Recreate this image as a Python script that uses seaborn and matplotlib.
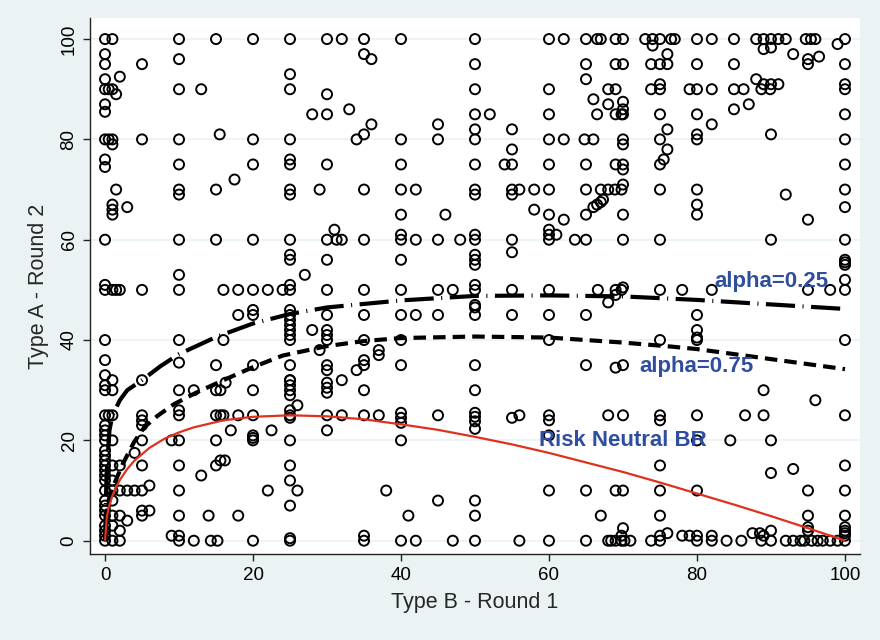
import matplotlib
matplotlib.use("Agg")
import matplotlib.pyplot as plt
import seaborn as sns
import pandas as pd

# ---------------- data ----------------
type_b_round1 = [
    # top zone
    0, 1, 10, 15, 20, 0, 0, 5, 10, 0, 2, 0, 0.5, 1, 1.5, 10, 13, 0, 0,
    0, 0.5, 1, 1, 5, 10, 15.5, 20, 0, 0, 10, 20, 17.5, 1.5, 10, 10, 15,
    1, 1, 1, 3,
    25, 30, 32, 35, 40, 50, 35, 36, 50, 25, 25, 30, 50, 28, 30, 33, 50, 36, 45, 50,
    25, 34, 35, 40, 45, 50, 25, 25, 30, 40, 50, 25, 25, 29, 35, 40, 42, 50, 50,
    60, 62, 65, 66.5, 67, 69, 70, 73, 74, 75, 74, 76.5, 76,
    65, 69, 70, 73.8, 75, 76, 65, 60, 68, 69, 73.8, 75, 75, 66, 68, 70, 70,
    52, 60, 66.5, 69, 69.8, 70, 75, 55, 76,
    60, 62, 64.8, 66, 70, 70, 75, 76, 55,
    54, 55, 60, 65, 69, 70, 70, 75, 75.5,
    55, 55, 56, 58, 60, 65, 67, 68, 68.9, 69.8, 70, 75,
    66, 66.5, 67, 67.3, 58, 60, 62, 65, 70,
    77, 80, 82, 85, 88, 89, 90, 91, 92, 94.7, 95.4, 96, 100, 99,
    89, 90, 93, 95, 95, 96.5, 100, 80, 85,
    88, 88.7, 89.9, 90, 91, 89, 79, 80, 82, 85, 86.3, 100, 100,
    85, 87, 80, 100, 82, 90, 80, 80, 100, 100, 80, 92, 100, 80, 80, 100, 95,
    # middle zone
    0, 10, 15, 20, 25, 10, 0, 0, 1, 1.5, 2, 5, 10, 16, 18, 20, 22, 24,
    18, 20, 20, 0, 10, 16, 0, 10, 15, 20, 0, 1,
    40, 46, 31, 30, 31.3, 32, 35, 40, 40, 42, 45, 48, 50, 50,
    25, 25, 30, 40, 50, 50, 27, 25, 25, 30, 35, 40, 45, 47, 50, 50,
    25, 25, 25, 25, 25, 25, 25, 30, 30, 30, 30, 28, 35, 40, 42, 45, 50, 50,
    35, 40, 29, 37, 37, 35, 35, 34, 25, 30, 30, 40, 50, 25, 32,
    55, 60, 60, 60, 61, 63.5, 65, 70, 75, 55, 50,
    55, 60, 66.6, 69, 69.8, 70, 69, 68, 75, 55, 60, 65, 50, 60, 75, 65, 69, 70,
    90, 100, 100, 100, 100, 100, 100, 95, 98, 78, 82, 80, 80, 80, 80, 100,
    # bottom zone
    0, 0, 1, 5, 10, 12, 15, 15.6, 20, 16.3,
    0, 0.5, 1, 5, 5, 10, 10, 15, 15.6, 16, 18, 20,
    5, 17, 20, 20, 20, 22.5, 0, 0, 0, 0, 1, 5, 9, 10, 15,
    4, 15, 15.6, 16.2, 13, 10, 5, 2, 0, 0, 0, 0, 0, 0, 0, 1, 1,
    0, 1, 2, 3, 4, 5, 6, 10, 22, 5, 5, 6, 3, 10, 14, 18,
    0, 0, 0, 0, 0, 0, 0, 1, 1, 1, 2, 2,
    0, 1, 2, 9, 10, 10, 12, 14.3, 15.2, 20,
    25, 25, 25, 25, 30, 30, 30, 35, 50, 26,
    25, 25, 25, 30, 32, 35, 37, 40, 40, 40, 45, 50, 50, 50, 50, 30,
    25, 40, 25, 25, 26, 38, 25, 45, 50, 41, 50,
    25, 25, 35, 35, 40, 42, 47, 50,
    55, 56, 60, 60, 68, 70, 75, 75, 60, 75,
    60, 65, 69, 70, 75, 67, 75, 70, 75, 76,
    56, 60, 65, 68, 68.4, 69, 69.8, 70.2, 71, 73.8, 75, 69.8,
    89, 96, 80, 86.5, 89, 100, 84.5, 90, 80, 90, 93, 100, 80, 95, 100, 95, 100,
    95, 95, 100, 100, 100, 100, 90, 87.5, 88.5, 89, 78, 79, 80, 82,
    80, 82, 84, 86, 88.7, 90, 92, 93, 94, 94.5, 95.5, 96.3, 97, 98, 99, 100,
]

type_a_round2 = [
    # top zone
    100, 100, 100, 100, 100, 97, 95, 95, 96, 92, 92.5, 90, 90, 90, 89, 90, 90, 87, 85.5,
    80, 80, 80, 79, 80, 80, 81, 80, 76, 74.5, 75, 75, 72, 70, 70, 69, 70,
    67, 66, 65, 66.5,
    100, 100, 100, 100, 100, 100, 97, 96, 95, 93, 90, 89, 90, 85, 85, 86, 85, 83, 83, 82,
    80, 80, 81, 80, 80, 80, 76, 75, 75, 75, 75, 70, 69, 70, 70, 70, 70, 70, 69,
    100, 100, 100, 100, 100, 100, 100, 100, 100, 100, 98.7, 100, 97,
    95, 95, 95, 95, 95, 95, 92, 90, 90, 90, 90, 90, 91, 88, 87, 87.5, 86,
    85, 85, 85, 85, 85, 85, 85, 82, 82,
    80, 80, 80, 80, 80, 79, 80, 78, 78,
    75, 75, 75, 75, 75, 75, 74, 75, 76,
    70, 69, 70, 70, 70, 70, 70, 70, 70, 70, 71, 70,
    66.5, 67, 67.5, 68, 66, 65, 64, 65, 65,
    100, 100, 100, 100, 100, 100, 100, 100, 100, 100, 100, 100, 100, 99,
    98, 98.3, 97, 96, 95, 96.5, 95, 95, 95,
    92, 90, 90, 91, 91, 91, 90, 90, 90, 90, 90, 91, 90,
    86, 87, 85, 85, 83, 81, 81, 80, 80, 75, 70, 69, 70, 67, 65, 66.5, 64,
    # middle zone
    60, 60, 60, 60, 60, 53, 51, 50, 50, 50, 50, 50, 50, 50, 50, 50, 50, 50,
    45, 46, 45, 40, 40, 40, 36, 35.5, 35, 35, 33, 32,
    65, 65, 62, 60, 60, 60, 60, 61, 60, 60, 60, 60, 61, 60,
    57, 56, 56, 56, 56, 55, 53, 51, 50, 50, 50, 50, 50, 50, 51, 50,
    46, 45, 44, 43, 42, 41, 40, 45, 42, 41, 40, 42, 45, 45, 45, 45, 46.5, 45,
    40, 40, 38, 38, 37, 36, 35, 34, 35, 35, 34, 35, 35, 32, 32,
    60, 60, 61, 62, 61, 60, 60, 60, 60, 57.5, 57,
    50, 50, 50, 50, 50, 50.5, 49, 47.5, 50, 45, 45, 45, 47, 40, 40, 35, 34.5, 35,
    60, 60, 56, 55.5, 55, 52, 50, 50, 50, 50, 50, 45, 42, 40.5, 40, 40,
    # bottom zone
    31, 30, 30, 32, 30, 30, 30, 30, 30, 31.5,
    25, 25, 25, 25, 24, 26, 25, 25, 25, 25, 25, 25,
    23, 22, 21, 20.5, 20, 22, 23, 22, 21, 20, 20, 20, 20, 20, 20,
    17.5, 15, 16, 16, 13, 15, 15, 15, 18, 17, 16, 15, 14, 13, 12, 15, 12,
    10, 10, 10, 10, 10, 10, 11, 10, 10, 6, 5, 6, 4, 5, 5, 5,
    8, 7, 6, 5, 3, 2, 1, 8, 5, 3, 5, 2,
    0, 0, 0, 1, 1, 0, 0, 0, 0, 0,
    32, 31, 30, 29, 31.5, 30.5, 29.5, 30, 30, 27,
    26, 25, 24.5, 25, 25, 25, 25, 25.5, 24.5, 23.5, 25, 25.5, 24.7, 23.8, 22.3, 22,
    20, 20, 15, 12, 10, 10, 7, 8, 8, 5, 5,
    0, 0.5, 1, 0, 0, 0, 0, 0,
    24.5, 25, 25, 24, 25, 25, 25, 24, 21, 15,
    10, 10, 10, 10, 10, 5, 5, 2.5, 1, 1.5,
    0, 0, 0, 0, 0, 0, 0, 0, 0, 0, 0, 1,
    30, 28, 25, 25, 25, 25, 20, 20, 20, 13.5, 14.3, 15, 10, 10, 10, 5, 5,
    2.7, 2, 2.7, 2, 1.5, 1, 2, 1.5, 1.5, 1, 1, 1, 1, 1,
    0, 0, 0, 0, 0, 0, 0, 0, 0, 0, 0, 0, 0, 0, 0, 0,
]

# best-response curves
rn_x = [0, 0.25, 0.5, 1, 1.5, 2, 3, 4, 6, 8, 10, 12, 16, 20, 25, 30, 35, 40, 45,
        50, 55, 60, 65, 70, 75, 80, 85, 90, 95, 100]
rn_y = [0, 4.8, 6.6, 9.0, 10.7, 12.1, 14.3, 16.0, 18.5, 20.3, 21.6, 22.6, 24.0,
        24.7, 25.0, 24.8, 24.2, 23.2, 22.1, 20.7, 19.2, 17.5, 15.6, 13.7, 11.6,
        9.4, 7.2, 4.9, 2.5, 0]

a25_x = [0, 0.2, 0.6, 1, 2, 3, 5, 7.5, 10, 15, 20, 25, 30, 40, 50, 60, 70, 80, 90, 100]
a25_y = [0, 13, 22, 25, 28, 30, 32, 34.8, 37.2, 40.6, 43.3, 45.2, 46.5, 47.9,
         48.8, 48.9, 48.7, 48.0, 47.1, 46.2]

a75_x = [0, 0.3, 1, 2.4, 3.9, 5.3, 7.1, 9.3, 12.3, 16, 20, 24, 30, 35, 40, 50,
         60, 70, 76.5, 80, 90, 100]
a75_y = [0, 6, 10.5, 15.3, 19.6, 22.6, 24.9, 27.2, 29.5, 32.0, 34.6, 36.9, 38.8,
         39.8, 40.4, 40.7, 40.5, 39.5, 38.7, 38.2, 36.2, 34.2]

labels = ["alpha=0.25", "alpha=0.75", "Risk Neutral BR"]
label_x = [90, 80, 70]
label_y = [51.6, 34.7, 19.9]

x_ticks = [0, 20, 40, 60, 80, 100]
y_ticks = [0, 20, 40, 60, 80, 100]

# ---------------- drawing ----------------
sns.set_theme(style="white")
plt.rcParams['font.family'] = ['Liberation Sans', 'DejaVu Sans']

W, H = 880, 640
fig = plt.figure(figsize=(W / 100, H / 100), dpi=100, facecolor='#EAF2F3')
L, R, B, T = 90, 860, 554, 18
ax = fig.add_axes([L / W, 1 - B / H, (R - L) / W, (B - T) / H])
ax.set_facecolor('white')

for yv in y_ticks:
    ax.axhline(yv, color='#EAF2F3', lw=1.2, zorder=0)

pts = pd.DataFrame({"b": type_b_round1, "a": type_a_round2})
sns.scatterplot(data=pts, x="b", y="a", ax=ax, marker='o', s=52,
                facecolor='none', edgecolor='black', linewidth=1.4, zorder=3)

sns.lineplot(x=a25_x, y=a25_y, ax=ax, color='black', lw=3.0, estimator=None,
             sort=False, zorder=4, linestyle=(0, (7, 1.8, 0.25, 1.8)))
sns.lineplot(x=a75_x, y=a75_y, ax=ax, color='black', lw=3.0, estimator=None,
             sort=False, zorder=4, linestyle=(0, (3.0, 1.7)))
sns.lineplot(x=rn_x, y=rn_y, ax=ax, color='#E0301E', lw=1.6, estimator=None,
             sort=False, zorder=4)
for ln in ax.lines:
    ln.set_solid_capstyle('butt')
    ln.set_dash_capstyle('butt')

for t, lx, ly in zip(labels, label_x, label_y):
    ax.text(lx, ly, t, color='#2F4E9F', fontsize=16, fontweight='bold',
            ha='center', va='center', zorder=5)

ax.set_xlim(-2.03, 102.03)
ax.set_ylim(-2.65, 104.2)
ax.set_xticks(x_ticks)
ax.set_yticks(y_ticks)
ax.set_xticklabels([str(v) for v in x_ticks])
ax.set_yticklabels([str(v) for v in y_ticks], rotation=90, va='center')
ax.tick_params(axis='both', direction='out', length=5, width=1, color='#222222',
               labelsize=13.5, pad=4, labelcolor='black')
ax.tick_params(left=True, bottom=True)
for s in ['top', 'right']:
    ax.spines[s].set_visible(False)
for s in ['left', 'bottom']:
    ax.spines[s].set_color('#222222')
    ax.spines[s].set_linewidth(1.0)

ax.set_xlabel("Type B - Round 1", fontsize=15.5, labelpad=6)
ax.set_ylabel("Type A - Round 2", fontsize=15.5, labelpad=8)

fig.savefig("out.png", dpi=100, facecolor=fig.get_facecolor())
